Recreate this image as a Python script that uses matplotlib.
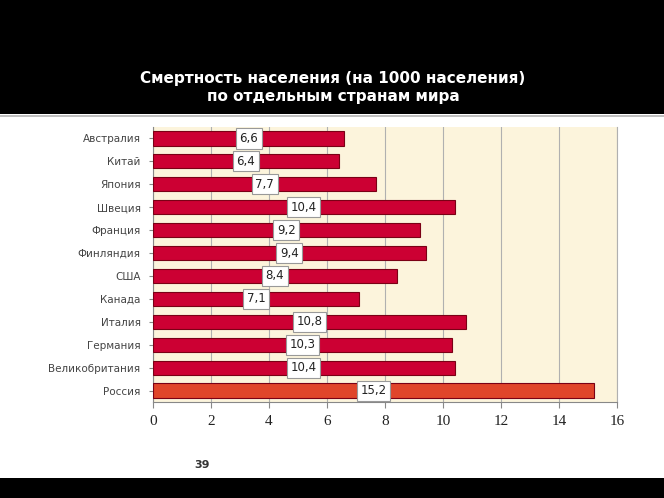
import matplotlib
matplotlib.use('Agg')
import matplotlib.pyplot as plt
from matplotlib.patches import Rectangle

# данные
countries = ['Австралия', 'Китай', 'Япония', 'Швеция', 'Франция', 'Финляндия',
             'США', 'Канада', 'Италия', 'Германия', 'Великобритания', 'Россия']
values = [6.6, 6.4, 7.7, 10.4, 9.2, 9.4, 8.4, 7.1, 10.8, 10.3, 10.4, 15.2]
value_labels = ['6,6', '6,4', '7,7', '10,4', '9,2', '9,4', '8,4', '7,1',
                '10,8', '10,3', '10,4', '15,2']
x_ticks = [0, 2, 4, 6, 8, 10, 12, 14, 16]

W, H = 664, 498
fig = plt.figure(figsize=(W / 100, H / 100), dpi=100)
fig.patch.set_facecolor('white')

# черные полосы сверху и снизу
fig.add_artist(Rectangle((0, 1 - 114 / H), 1, 114 / H, transform=fig.transFigure,
                         facecolor='black', edgecolor='none'))
fig.add_artist(Rectangle((0, 1 - 117 / H), 1, 2 / H, transform=fig.transFigure,
                         facecolor='#c0c0c0', edgecolor='none'))
fig.add_artist(Rectangle((0, 0), 1, 20 / H, transform=fig.transFigure,
                         facecolor='black', edgecolor='none'))

fig.text(333 / W, 1 - 87.5 / H, 'Смертность населения (на 1000 населения)\nпо отдельным странам мира',
         ha='center', va='center', color='white', fontsize=11, fontweight='bold',
         family='DejaVu Sans', linespacing=1.25)
fig.text(202 / W, 1 - 465 / H, '39', ha='center', va='center', color='#333333',
         fontsize=8, fontweight='bold')

ax = fig.add_axes([153 / W, 1 - 402 / H, (617 - 153) / W, (402 - 127) / H])
ax.set_facecolor('#fcf4dc')

ypos = list(range(len(countries)))
colors = ['#cc0033'] * (len(countries) - 1) + ['#e0452a']
ax.barh(ypos, values, height=0.62, color=colors, edgecolor='#7a0015', linewidth=0.8, zorder=3)

for y, v, lab in zip(ypos, values, value_labels):
    ax.text(v / 2, y, lab, ha='center', va='center', fontsize=8.5, color='#222222', zorder=4,
            bbox=dict(boxstyle='square,pad=0.3', facecolor='white', edgecolor='#999999', linewidth=0.8))

ax.set_yticks(ypos)
ax.set_yticklabels(countries, fontsize=7.5, color='#444444')
ax.set_ylim(len(countries) - 0.5, -0.5)
ax.set_xlim(0, 16)
ax.set_xticks(x_ticks)
ax.set_xticklabels([str(t) for t in x_ticks], fontsize=11, family='Liberation Serif',
                   color='#222222')
ax.xaxis.grid(True, color='#b0b0b0', linewidth=0.8, zorder=0)
ax.tick_params(axis='y', length=3, color='#888888', pad=6)
ax.tick_params(axis='x', length=4, color='#888888', pad=5)
for s in ['top']:
    ax.spines[s].set_visible(False)
ax.spines['right'].set_color('#b0b0b0')
ax.spines['left'].set_color('#888888')
ax.spines['bottom'].set_color('#888888')

plt.savefig('out.png', dpi=100)
plt.close()
